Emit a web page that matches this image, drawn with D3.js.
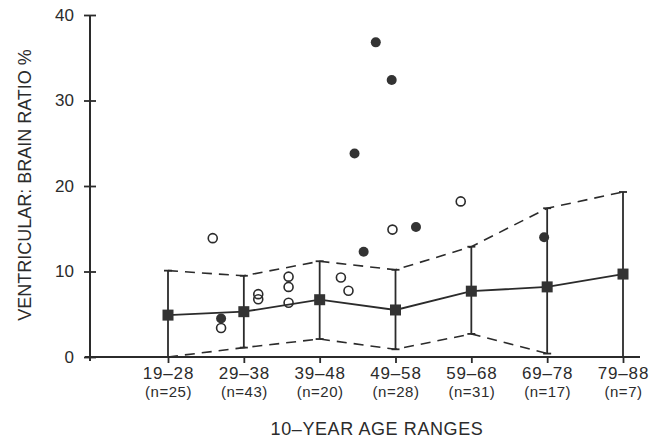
<!DOCTYPE html>
<html>
<head>
<meta charset="utf-8">
<script src="https://cdn.jsdelivr.net/npm/d3@7"></script>
<style>
  body { margin: 0; background: #fff; }
  svg text { font-family: "Liberation Sans", Arial, sans-serif; fill: #2b2b2b; }
</style>
</head>
<body>
<svg id="chart" width="665" height="440"></svg>
<script>
// age groups along the x axis
const categories = ["19–28", "29–38", "39–48", "49–58", "59–68", "69–78", "79–88"];
const nLabels = ["(n=25)", "(n=43)", "(n=20)", "(n=28)", "(n=31)", "(n=17)", "(n=7)"];

// mean and +/- SD band
const meanValues = [4.9, 5.3, 6.7, 5.5, 7.7, 8.2, 9.7];
const upperValues = [10.1, 9.5, 11.2, 10.2, 12.9, 17.4, 19.3];
const lowerValues = [0, 1.1, 2.1, 0.9, 2.7, 0.4, null];

// individual outliers, x given as position between age groups
const openX = [0.59, 0.70, 1.19, 1.19, 1.59, 1.59, 1.59, 2.28, 2.38, 2.96, 3.86];
const openY = [13.9, 3.4, 7.35, 6.75, 9.4, 8.2, 6.35, 9.3, 7.75, 14.9, 18.2];
const filledX = [0.70, 2.46, 2.58, 2.74, 2.95, 3.27, 4.96];
const filledY = [4.5, 23.8, 12.3, 36.8, 32.4, 15.2, 14.0];

const yTicks = [0, 10, 20, 30, 40];

const ink = "#2b2b2b";
const svg = d3.select("#chart");

const x = d3.scaleLinear().domain([0, 6]).range([168, 623]);
const y = d3.scaleLinear().domain([0, 40]).range([357, 15]);

// Y axis (ticks cross the line)
const yAxis = svg.append("g")
  .attr("transform", "translate(90,0)")
  .call(d3.axisLeft(y).tickValues(yTicks).tickSize(6).tickPadding(10));
yAxis.select(".domain").remove();
yAxis.selectAll(".tick line").attr("x1", 6).attr("stroke", ink).attr("stroke-width", 1.8);
yAxis.selectAll(".tick text").attr("font-size", 17).style("fill", ink);
svg.append("line")
  .attr("x1", 90).attr("x2", 90)
  .attr("y1", y(40)).attr("y2", y(0) + 4)
  .attr("stroke", ink).attr("stroke-width", 2);

// X axis
const xAxis = svg.append("g")
  .attr("transform", `translate(0,${y(0)})`)
  .call(d3.axisBottom(x).tickValues(d3.range(categories.length))
    .tickFormat(i => categories[i]).tickSize(6).tickPadding(4));
xAxis.select(".domain").remove();
xAxis.selectAll(".tick line").attr("stroke", ink).attr("stroke-width", 1.8);
xAxis.selectAll(".tick text").attr("font-size", 17)
  .style("letter-spacing", "0.8px").style("fill", ink);
xAxis.selectAll(".tick").append("text")
  .attr("y", 40)
  .attr("text-anchor", "middle")
  .attr("font-size", 15)
  .style("letter-spacing", "0.5px")
  .style("fill", ink)
  .text(i => nLabels[i]);
svg.append("line")
  .attr("x1", 85).attr("x2", 640)
  .attr("y1", y(0)).attr("y2", y(0))
  .attr("stroke", ink).attr("stroke-width", 2);

// dashed SD envelope
const idx = d3.range(categories.length);
const upperLine = d3.line().x(i => x(i)).y(i => y(upperValues[i]));
const lowerLine = d3.line().defined(i => lowerValues[i] != null)
  .x(i => x(i)).y(i => y(lowerValues[i]));
svg.append("path").attr("d", upperLine(idx))
  .attr("fill", "none").attr("stroke", ink).attr("stroke-width", 1.6)
  .attr("stroke-dasharray", "10,7");
svg.append("path").attr("d", lowerLine(idx))
  .attr("fill", "none").attr("stroke", ink).attr("stroke-width", 1.6)
  .attr("stroke-dasharray", "10,7");

// error bars
const bars = svg.append("g");
bars.selectAll("line.v").data(idx).join("line")
  .attr("x1", i => x(i)).attr("x2", i => x(i))
  .attr("y1", i => y(upperValues[i])).attr("y2", i => y(lowerValues[i] == null ? 0 : lowerValues[i]))
  .attr("stroke", ink).attr("stroke-width", 1.8);
bars.selectAll("line.cap").data(idx).join("line")
  .attr("x1", i => x(i) - 4).attr("x2", i => x(i) + 4)
  .attr("y1", i => y(upperValues[i])).attr("y2", i => y(upperValues[i]))
  .attr("stroke", ink).attr("stroke-width", 1.8);
bars.selectAll("line.lcap").data(idx.filter(i => lowerValues[i])).join("line")
  .attr("x1", i => x(i) - 4).attr("x2", i => x(i) + 4)
  .attr("y1", i => y(lowerValues[i])).attr("y2", i => y(lowerValues[i]))
  .attr("stroke", ink).attr("stroke-width", 1.8);

// mean line and squares
const meanLine = d3.line().x(i => x(i)).y(i => y(meanValues[i]));
svg.append("path").attr("d", meanLine(idx))
  .attr("fill", "none").attr("stroke", ink).attr("stroke-width", 1.8);
svg.selectAll("rect.mean").data(idx).join("rect")
  .attr("x", i => x(i) - 5.5).attr("y", i => y(meanValues[i]) - 5.5)
  .attr("width", 11).attr("height", 11)
  .attr("fill", "#333");

// outliers
svg.append("g").selectAll("circle").data(filledX).join("circle")
  .attr("cx", d => x(d)).attr("cy", (d, i) => y(filledY[i]))
  .attr("r", 5).attr("fill", "#333");
svg.append("g").selectAll("circle").data(openX).join("circle")
  .attr("cx", d => x(d)).attr("cy", (d, i) => y(openY[i]))
  .attr("r", 4.5).attr("fill", "none").attr("stroke", ink).attr("stroke-width", 1.6);

// axis titles
svg.append("text")
  .attr("transform", `translate(31,${185})rotate(-90)`)
  .attr("text-anchor", "middle")
  .attr("font-size", 18)
  .text("VENTRICULAR: BRAIN RATIO %");
svg.append("text")
  .attr("x", 377).attr("y", 435)
  .attr("text-anchor", "middle")
  .attr("font-size", 18)
  .style("letter-spacing", "0.6px")
  .text("10–YEAR AGE RANGES");
</script>
</body>
</html>
